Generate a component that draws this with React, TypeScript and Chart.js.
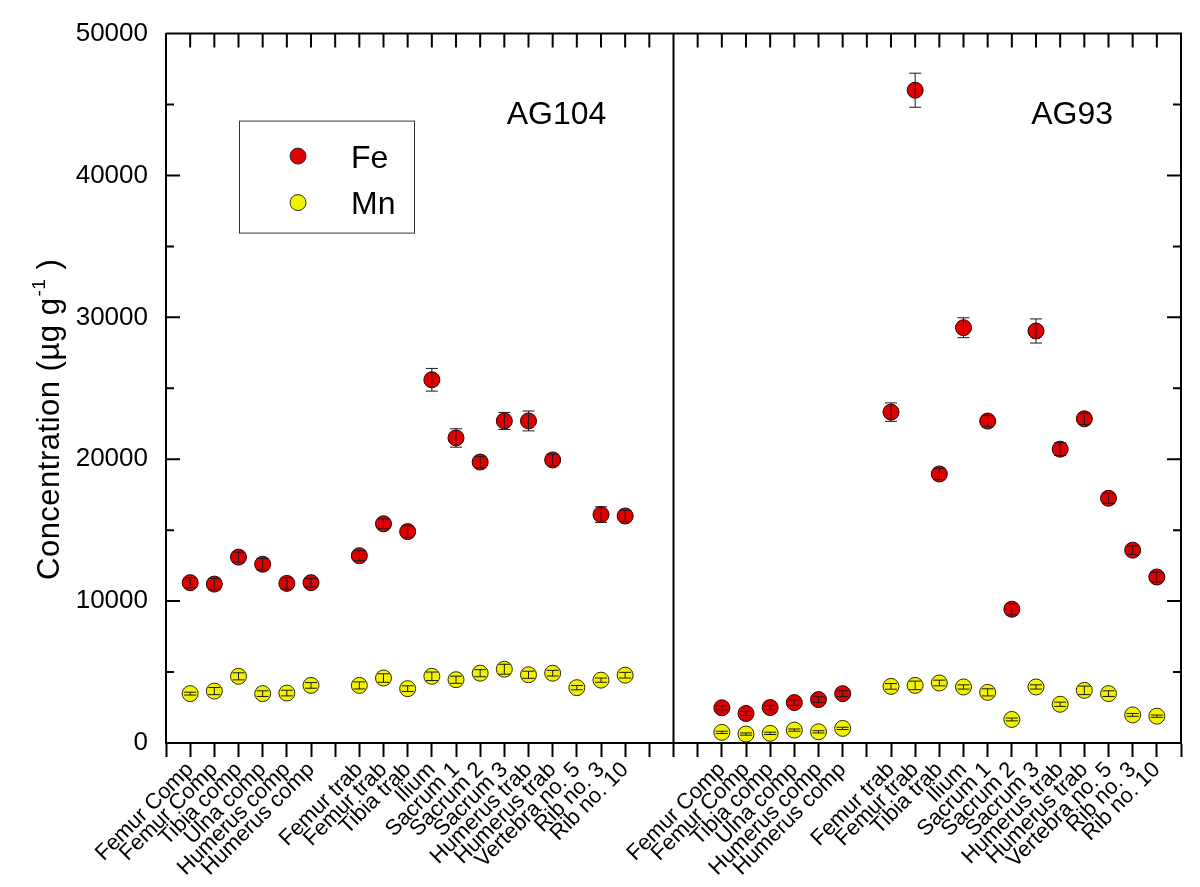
import React, { useEffect, useRef } from 'react';
import { Chart, registerables } from 'chart.js';

Chart.register(...registerables);

// ---------- data ----------
const compLabels = ['Femur Comp', 'Femur Comp', 'Tibia comp', 'Ulna comp', 'Humerus comp', 'Humerus comp'];
const trabLabels = ['Femur trab', 'Femur trab', 'Tibia trab', 'Ilium', 'Sacrum 1', 'Sacrum 2', 'Sacrum 3', 'Humerus trab', 'Humerus trab', 'Vertebra no. 5', 'Rib no. 3', 'Rib no. 10'];
const panelNames = ['AG104', 'AG93'];
const seriesNames = ['Fe', 'Mn'];
const yTickValues = [0, 10000, 20000, 30000, 40000, 50000];

// AG104
const ag104FeComp = [11300, 11200, 13100, 12600, 11250, 11300];
const ag104FeCompErr = [350, 400, 350, 400, 400, 300];
const ag104FeTrab = [13200, 15450, 14900, 25600, 21500, 19800, 22700, 22700, 19950, null, 16100, 16000];
const ag104FeTrabErr = [350, 350, 400, 800, 650, 400, 600, 700, 400, null, 550, 400];
const ag104MnComp = [3480, 3660, 4700, 3480, 3520, 4060];
const ag104MnCompErr = [100, 250, 250, 200, 200, 200];
const ag104MnTrab = [4060, 4580, 3830, 4700, 4460, 4920, 5200, 4810, 4920, 3900, 4430, 4780];
const ag104MnTrabErr = [250, 300, 200, 300, 250, 250, 350, 250, 200, 150, 150, 200];

// AG93
const ag93FeComp = [2480, 2080, 2500, 2850, 3060, 3480];
const ag93FeCompErr = [150, 150, 150, 200, 200, 200];
const ag93FeTrab = [23320, 46010, 18960, 29270, 22690, 9430, 29040, 20710, 22850, 17250, 13590, 11700];
const ag93FeTrabErr = [650, 1200, 400, 700, 400, 400, 850, 450, 400, 350, 300, 350];
const ag93MnComp = [750, 630, 680, 910, 790, 1030];
const ag93MnCompErr = [80, 80, 80, 80, 80, 80];
const ag93MnTrab = [3990, 4060, 4230, 3950, 3570, 1660, 3950, 2730, 3710, 3480, 1980, 1890];
const ag93MnTrabErr = [200, 300, 200, 150, 250, 100, 150, 150, 300, 200, 100, 80];

// ---------- build category slots ----------
function panel<T>(comp: T[], trab: T[]): (T | null)[] {
  return [...comp, null, ...trab];
}
function full<T>(p1: (T | null)[], p2: (T | null)[]): (T | null)[] {
  return [null, ...p1, null, null, null, ...p2, null];
}
const labels = full(panel(compLabels, trabLabels), panel(compLabels, trabLabels)).map((l) => l ?? '');
const dividerIndex = 1 + compLabels.length + 1 + trabLabels.length + 1;
const panelStart = [1, dividerIndex + 2];

const feData = full(panel(ag104FeComp, ag104FeTrab), panel(ag93FeComp, ag93FeTrab));
const feErr = full(panel(ag104FeCompErr, ag104FeTrabErr), panel(ag93FeCompErr, ag93FeTrabErr));
const mnData = full(panel(ag104MnComp, ag104MnTrab), panel(ag93MnComp, ag93MnTrab));
const mnErr = full(panel(ag104MnCompErr, ag104MnTrabErr), panel(ag93MnCompErr, ag93MnTrabErr));

const FONT = 'Arial, "Liberation Sans", Helvetica, sans-serif';
const FE_COLOR = '#e00000';
const MN_COLOR = '#f2f200';

const errorBarPlugin = {
  id: 'errorBars',
  afterDatasetsDraw(chart: any) {
    const { ctx, scales } = chart;
    const y = scales.y;
    ctx.save();
    ctx.strokeStyle = '#1a1a1a';
    ctx.lineWidth = 1;
    chart.data.datasets.forEach((ds: any, i: number) => {
      const meta = chart.getDatasetMeta(i);
      ds.data.forEach((v: number | null, j: number) => {
        const e = ds.errors[j];
        if (v == null || e == null) return;
        const px = meta.data[j].x;
        const yt = y.getPixelForValue(v + e);
        const yb = y.getPixelForValue(v - e);
        const cap = 6;
        ctx.beginPath();
        ctx.moveTo(px, yt); ctx.lineTo(px, yb);
        ctx.moveTo(px - cap, yt); ctx.lineTo(px + cap, yt);
        ctx.moveTo(px - cap, yb); ctx.lineTo(px + cap, yb);
        ctx.stroke();
      });
    });
    ctx.restore();
  },
};

const framePlugin = {
  id: 'frame',
  beforeDatasetsDraw(chart: any) {
    const { ctx, chartArea: a, scales } = chart;
    const x = scales.x;
    const y = scales.y;
    ctx.save();
    ctx.strokeStyle = '#000';
    ctx.lineWidth = 2;
    ctx.beginPath();
    ctx.moveTo(a.left, a.top);
    ctx.lineTo(a.right, a.top);
    ctx.lineTo(a.right, a.bottom);
    const dx = x.getPixelForValue(dividerIndex);
    ctx.moveTo(dx, a.top);
    ctx.lineTo(dx, a.bottom);
    for (let i = 0; i < labels.length; i++) {
      const px = x.getPixelForTick(i);
      ctx.moveTo(px, a.top);
      ctx.lineTo(px, a.top + 14);
    }
    const maxV = yTickValues[yTickValues.length - 1];
    const major = yTickValues[1] - yTickValues[0];
    for (let v = 0; v <= maxV; v += major / 2) {
      const py = y.getPixelForValue(v);
      const len = v % major === 0 ? 14 : 8;
      ctx.moveTo(a.left, py);
      ctx.lineTo(a.left + len, py);
      ctx.moveTo(a.right, py);
      ctx.lineTo(a.right - len, py);
    }
    ctx.stroke();
    ctx.restore();
  },
  afterDraw(chart: any) {
    const { ctx, chartArea: a, scales } = chart;
    const x = scales.x;
    ctx.save();
    // panel names
    ctx.fillStyle = '#000';
    ctx.font = `32px ${FONT}`;
    ctx.textAlign = 'left';
    ctx.textBaseline = 'alphabetic';
    ctx.fillText(panelNames[0], x.getPixelForValue(panelStart[0] + 13.1), a.top + 90);
    ctx.fillText(panelNames[1], x.getPixelForValue(panelStart[1] + 12.8), a.top + 90);

    // legend box
    const lx = a.left + 73;
    const ly = a.top + 87;
    ctx.strokeStyle = '#333';
    ctx.lineWidth = 1;
    ctx.strokeRect(lx + 0.5, ly + 0.5, 175, 112);
    const colors = [FE_COLOR, MN_COLOR];
    seriesNames.forEach((name, i) => {
      const cy = ly + 35.5 + i * 46.5;
      ctx.beginPath();
      ctx.arc(lx + 59, cy, 8, 0, Math.PI * 2);
      ctx.fillStyle = colors[i];
      ctx.fill();
      ctx.strokeStyle = '#2a2a2a';
      ctx.stroke();
      ctx.fillStyle = '#000';
      ctx.font = `32px ${FONT}`;
      ctx.fillText(name, lx + 112, cy + 11.5);
    });

    // y axis title
    ctx.translate(59, 580);
    ctx.rotate(-Math.PI / 2);
    ctx.fillStyle = '#000';
    ctx.font = `31px ${FONT}`;
    (ctx as any).letterSpacing = '0.5px';
    const main = 'Concentration (\u00b5g g';
    ctx.fillText(main, 0, 0);
    let w = ctx.measureText(main).width;
    ctx.font = `19px ${FONT}`;
    ctx.fillText('-1', w + 1, -14);
    w += ctx.measureText('-1').width + 1;
    ctx.font = `31px ${FONT}`;
    ctx.fillText(' )', w, 0);
    ctx.restore();
  },
};

export default function App() {
  const canvasRef = useRef<HTMLCanvasElement | null>(null);

  useEffect(() => {
    if (!canvasRef.current) return;
    const chart = new Chart(canvasRef.current, {
      type: 'line',
      data: {
        labels,
        datasets: [
          {
            label: seriesNames[0],
            data: feData,
            errors: feErr,
            showLine: false,
            pointRadius: 8,
            pointHoverRadius: 8,
            pointBackgroundColor: FE_COLOR,
            pointBorderColor: '#2a0000',
            pointBorderWidth: 1,
          } as any,
          {
            label: seriesNames[1],
            data: mnData,
            errors: mnErr,
            showLine: false,
            pointRadius: 8,
            pointHoverRadius: 8,
            pointBackgroundColor: MN_COLOR,
            pointBorderColor: '#2a2a00',
            pointBorderWidth: 1,
          } as any,
        ],
      },
      options: {
        animation: false,
        responsive: false,
        events: [],
        layout: { padding: { top: 29, right: 19, left: 0, bottom: 0 } },
        plugins: { legend: { display: false }, tooltip: { enabled: false } },
        scales: {
          x: {
            type: 'category',
            offset: false,
            grid: { display: true, drawOnChartArea: false, drawTicks: true, tickLength: 14, tickWidth: 2, tickColor: '#000' },
            border: { display: true, color: '#000', width: 2 },
            ticks: { autoSkip: false, maxRotation: 45, minRotation: 45, color: '#000', font: { family: FONT, size: 22 }, padding: 0 },
            afterFit: (s: any) => { s.height = 144; },
          },
          y: {
            type: 'linear',
            min: yTickValues[0],
            max: yTickValues[yTickValues.length - 1],
            afterBuildTicks: (s: any) => { s.ticks = yTickValues.map((v) => ({ value: v })); },
            grid: { display: false, drawTicks: false },
            border: { display: true, color: '#000', width: 2 },
            ticks: { color: '#000', font: { family: FONT, size: 26 }, padding: 18, callback: (v: any) => String(v) },
            afterFit: (s: any) => { s.width = 166; },
          },
        },
      },
      plugins: [framePlugin, errorBarPlugin],
    });
    return () => chart.destroy();
  }, []);

  return (
    <div style={{ position: 'absolute', left: 0, top: 0, width: 1200, height: 887, background: '#fff' }}>
      <canvas ref={canvasRef} width={1200} height={887} style={{ width: 1200, height: 887, display: 'block' }} />
    </div>
  );
}
